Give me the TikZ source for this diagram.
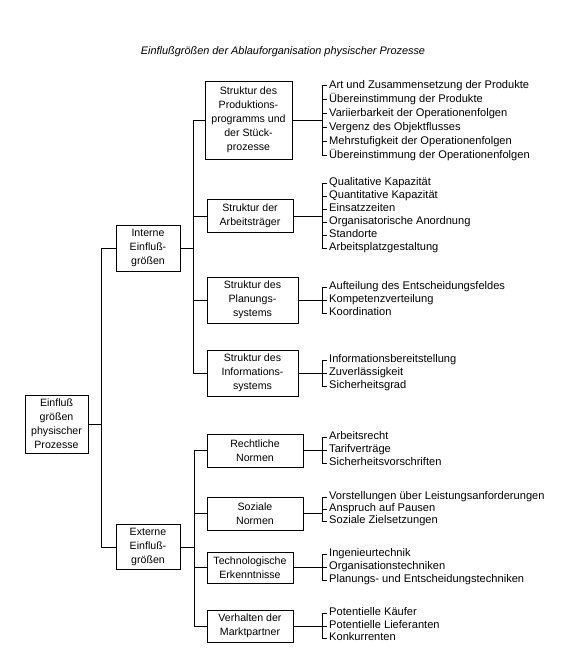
\documentclass[tikz,border=0pt]{standalone}
\usepackage{fontspec}
\setmainfont{Liberation Sans}
\begin{document}
\begin{tikzpicture}[x=1pt,y=-1pt,
  conn/.style={line width=0.8pt},
  box/.style={draw,line width=0.8pt,align=center,inner sep=0pt,font=\fontsize{10.6}{14}\selectfont},
  item/.style={anchor=west,inner xsep=2pt,inner ysep=0pt,text height=8pt,text depth=2.5pt,font=\fontsize{11.1}{13}\selectfont}]
\useasboundingbox (0,0) rectangle (564,659);
\node[font=\fontsize{10.9}{13}\selectfont\itshape] (title) at (283,52) {Einflußgrößen der Ablauforganisation physischer Prozesse};

% level 0 and 1
\node[box,minimum width=63pt,minimum height=58pt] (root) at (56.5,424) {Einfluß\\größen\\physischer\\Prozesse};
\node[box,minimum width=64pt,minimum height=46pt] (int) at (148,248) {Interne\\Einfluß-\\größen};
\node[box,minimum width=64pt,minimum height=45pt] (ext) at (148,547) {Externe\\Einfluß-\\größen};

% level 2
\node[box,minimum width=87pt,minimum height=78pt] (b1) at (248.5,120) {Struktur des\\Produktions-\\programms und\\der Stück-\\prozesse};
\node[box,minimum width=86pt,minimum height=33pt] (b2) at (250,216) {Struktur der\\Arbeitsträger};
\node[box,minimum width=91pt,minimum height=46pt] (b3) at (252.5,300) {Struktur des\\Planungs-\\systems};
\node[box,minimum width=91pt,minimum height=46pt] (b4) at (252.5,373) {Struktur des\\Informations-\\systems};
\node[box,minimum width=96pt,minimum height=33pt] (b5) at (255,450.5) {Rechtliche\\Normen};
\node[box,minimum width=96pt,minimum height=33pt] (b6) at (255,513.5) {Soziale\\Normen};
\node[box,minimum width=86pt,minimum height=31pt] (b7) at (250,567.5) {Technologische\\Erkenntnisse};
\node[box,minimum width=86pt,minimum height=32pt] (b8) at (250,626) {Verhalten der\\Marktpartner};

% items
\node[item] (a1) at (327,85.5) {Art und Zusammensetzung der Produkte};
\node[item] (a2) at (327,99.5) {Übereinstimmung der Produkte};
\node[item] (a3) at (327,113.5) {Variierbarkeit der Operationenfolgen};
\node[item] (a4) at (327,127.5) {Vergenz des Objektflusses};
\node[item] (a5) at (327,141.5) {Mehrstufigkeit der Operationenfolgen};
\node[item] (a6) at (327,155.5) {Übereinstimmung der Operationenfolgen};

\node[item] (c1) at (327,183) {Qualitative Kapazität};
\node[item] (c2) at (327,196) {Quantitative Kapazität};
\node[item] (c3) at (327,209) {Einsatzzeiten};
\node[item] (c4) at (327,222) {Organisatorische Anordnung};
\node[item] (c5) at (327,235) {Standorte};
\node[item] (c6) at (327,248) {Arbeitsplatzgestaltung};

\node[item] (d1) at (327,287) {Aufteilung des Entscheidungsfeldes};
\node[item] (d2) at (327,300) {Kompetenzverteilung};
\node[item] (d3) at (327,313) {Koordination};

\node[item] (e1) at (327,360) {Informationsbereitstellung};
\node[item] (e2) at (327,373) {Zuverlässigkeit};
\node[item] (e3) at (327,386) {Sicherheitsgrad};

\node[item] (f1) at (327,437) {Arbeitsrecht};
\node[item] (f2) at (327,450) {Tarifverträge};
\node[item] (f3) at (327,463) {Sicherheitsvorschriften};

\node[item] (g1) at (327,497) {Vorstellungen über Leistungsanforderungen};
\node[item] (g2) at (327,509) {Anspruch auf Pausen};
\node[item] (g3) at (327,521) {Soziale Zielsetzungen};

\node[item] (h1) at (327,554) {Ingenieurtechnik};
\node[item] (h2) at (327,567) {Organisationstechniken};
\node[item] (h3) at (327,580) {Planungs- und Entscheidungstechniken};

\node[item] (k1) at (327,613) {Potentielle Käufer};
\node[item] (k2) at (327,626) {Potentielle Lieferanten};
\node[item] (k3) at (327,638) {Konkurrenten};

% tree junction coordinates
\coordinate (j0) at (101,0);
\coordinate (jI) at (193,0);
\coordinate (jE) at (194,0);
\coordinate (jL) at (322,0);

% root
\draw[conn] (root.east) -- (root.east -| j0);
\draw[conn] (int.west) -- (int.west -| j0) -- (ext.west -| j0) -- (ext.west);

% interne
\draw[conn] (int.east) -- (int.east -| jI);
\draw[conn] (b1.west) -- (b1.west -| jI) -- (b4.west -| jI) -- (b4.west);
\foreach \b in {b2,b3} \draw[conn] (\b.west) -- (\b.west -| jI);

% externe
\draw[conn] (ext.east) -- (ext.east -| jE);
\draw[conn] (b5.west) -- (b5.west -| jE) -- (b8.west -| jE) -- (b8.west);
\foreach \b in {b6,b7} \draw[conn] (\b.west) -- (\b.west -| jE);

% brackets
\foreach \bx/\f/\l/\mids in {b1/a1/a6/{a2,a3,a4,a5}, b2/c1/c6/{c2,c3,c4,c5}, b3/d1/d3/{d2}, b4/e1/e3/{e2}, b5/f1/f3/{f2}, b6/g1/g3/{g2}, b7/h1/h3/{h2}, b8/k1/k3/{k2}}{
  \draw[conn] (\f.west) -- (\f.west -| jL) -- (\l.west -| jL) -- (\l.west);
  \foreach \m in \mids \draw[conn] (\m.west) -- (\m.west -| jL);
  \draw[conn] (\bx.east) -- (\bx.east -| jL);
}
\end{tikzpicture}
\end{document}
